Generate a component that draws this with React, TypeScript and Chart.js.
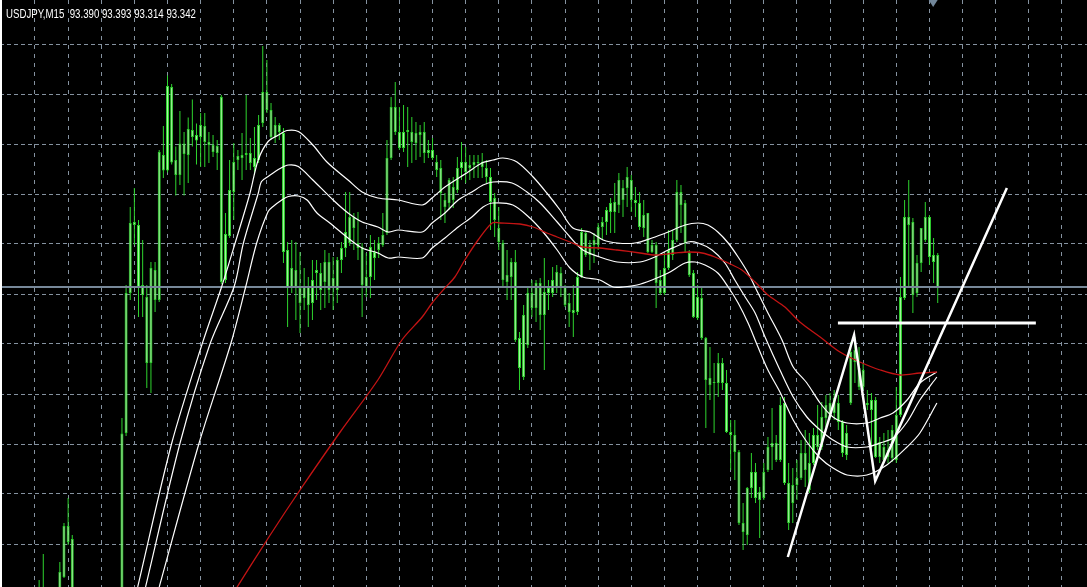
import { useEffect, useRef } from "react";
import { Chart, registerables } from "chart.js";

Chart.register(...registerables);

// ---- chart meta ----
const TITLE_TEXT = "USDJPY,M15  93.390 93.393 93.314 93.342";
const X_MIN = -8.45; // bar index at left edge
const X_MAX = 254.05; // bar index at right edge
const Y_MIN = 92.714;
const Y_MAX = 93.888;
const GRID_BARS = 8;
const GRID_PRICE = 0.1;
const BID_PRICE = 93.314;
const SHIFT_MARKER_BAR = 216.9;

// ---- candles (bar index starts at FIRST_BAR; null = entirely below the visible window) ----
const FIRST_BAR = 1;
const N = null;
const opens = [
  92.688, 92.678, N, N, N,
  92.688, 92.734, 92.836, 92.810,
  N, N, N, N, N, N, N, N, N, N, N,
  92.688, 93.022, 93.302, 93.444, 93.438, 93.318, 93.294, 93.162, 93.348, 93.288,
  93.578, 93.547, 93.714, 93.568, 93.538, 93.601, 93.578, 93.628, 93.618, 93.614,
  93.636, 93.604, 93.598, 93.582, 93.694, 93.328, 93.416, 93.504, 93.568, 93.578,
  93.578, 93.582, 93.554, 93.568, 93.642, 93.704, 93.668, 93.614, 93.638, 93.622,
  93.388, 93.314, 93.348, 93.312, 93.292, 93.314, 93.282, 93.342, 93.342, 93.324,
  93.364, 93.314, 93.308, 93.368, 93.392, 93.402, 93.454, 93.402, 93.394, 93.314,
  93.334, 93.384, 93.388, 93.398, 93.422, 93.572, 93.674, 93.624, 93.592, 93.624,
  93.624, 93.602, 93.624, 93.624, 93.582, 93.588, 93.564, 93.552, 93.488, 93.482,
  93.514, 93.508, 93.552, 93.564, 93.552, 93.558, 93.564, 93.564, 93.552, 93.534,
  93.492, 93.432, 93.402, 93.324, 93.334, 93.364, 93.212, 93.134, 93.198, 93.302,
  93.272, 93.322, 93.258, 93.302, 93.302, 93.314, 93.342, 93.314, 93.282, 93.262,
  93.264, 93.334, 93.422, 93.378, 93.398, 93.398, 93.434, 93.444, 93.464, 93.484,
  93.478, 93.512, 93.512, 93.528, 93.488, 93.482, 93.432, 93.462, 93.384, 93.398,
  93.328, 93.302, 93.352, 93.378, 93.408, 93.504, 93.482, 93.382, 93.342, 93.252,
  93.292, 93.212, 93.132, 93.122, 93.122, 93.162, 93.122, 93.024, 93.018, 92.984,
  92.842, 92.818, 92.912, 92.944, 92.888, 92.892, 92.948, 92.994, 93.002, 92.968,
  93.082, 92.922, 92.882, 92.918, 92.932, 92.982, 92.962, 92.962, 93.018, 92.994,
  93.052, 93.082, 93.062, 93.082, 93.044, 92.978, 93.082, 93.188, 93.152, 93.114,
  93.082, 93.088, 93.088, 92.974, 92.994, 92.974, 92.972, 92.968, 93.058, 93.292,
  93.454, 93.444, 93.302, 93.362, 93.408, 93.454, 93.378, 93.378,
];
const highs = [
  92.728, 92.780, N, N, N,
  92.764, 92.842, 92.892, 92.818,
  N, N, N, N, N, N, N, N, N, N, N,
  93.052, 93.318, 93.474, 93.512, 93.448, 93.408, 93.318, 93.364, 93.364, 93.588,
  93.636, 93.737, 93.720, 93.595, 93.666, 93.624, 93.653, 93.689, 93.641, 93.662,
  93.662, 93.624, 93.618, 93.608, 93.698, 93.462, 93.568, 93.602, 93.588, 93.622,
  93.698, 93.612, 93.634, 93.658, 93.796, 93.768, 93.682, 93.654, 93.642, 93.632,
  93.404, 93.408, 93.404, 93.384, 93.352, 93.334, 93.368, 93.368, 93.362, 93.388,
  93.382, 93.374, 93.374, 93.404, 93.504, 93.504, 93.462, 93.464, 93.402, 93.382,
  93.418, 93.408, 93.414, 93.462, 93.608, 93.694, 93.724, 93.674, 93.678, 93.674,
  93.654, 93.644, 93.638, 93.644, 93.608, 93.612, 93.578, 93.568, 93.502, 93.532,
  93.534, 93.574, 93.604, 93.594, 93.578, 93.578, 93.578, 93.582, 93.568, 93.552,
  93.502, 93.474, 93.408, 93.388, 93.372, 93.388, 93.224, 93.278, 93.314, 93.328,
  93.328, 93.332, 93.372, 93.328, 93.354, 93.358, 93.354, 93.318, 93.302, 93.318,
  93.344, 93.432, 93.424, 93.408, 93.422, 93.442, 93.454, 93.474, 93.492, 93.522,
  93.542, 93.528, 93.554, 93.538, 93.514, 93.504, 93.488, 93.462, 93.408, 93.404,
  93.348, 93.382, 93.428, 93.428, 93.528, 93.518, 93.488, 93.388, 93.348, 93.318,
  93.314, 93.214, 93.194, 93.162, 93.182, 93.172, 93.148, 93.048, 93.048, 92.988,
  92.882, 92.914, 92.982, 92.962, 92.914, 92.962, 93.014, 93.072, 93.018, 93.094,
  93.094, 92.962, 92.952, 92.968, 93.008, 93.028, 93.022, 93.032, 93.078, 93.084,
  93.098, 93.102, 93.108, 93.098, 93.048, 93.038, 93.204, 93.214, 93.194, 93.162,
  93.108, 93.102, 93.094, 93.014, 93.022, 93.028, 93.038, 93.114, 93.334, 93.488,
  93.528, 93.452, 93.378, 93.432, 93.484, 93.458, 93.412, 93.382,
];
const lows = [
  92.648, 92.648, N, N, N,
  92.668, 92.732, 92.798, 92.668,
  N, N, N, N, N, N, N, N, N, N, N,
  92.678, 93.016, 93.288, 93.398, 93.254, 93.254, 93.112, 93.102, 93.264, 93.284,
  93.532, 93.543, 93.559, 93.497, 93.518, 93.497, 93.522, 93.595, 93.559, 93.554,
  93.554, 93.562, 93.574, 93.548, 93.320, 93.322, 93.412, 93.448, 93.548, 93.528,
  93.548, 93.548, 93.538, 93.562, 93.634, 93.662, 93.608, 93.602, 93.608, 93.362,
  93.234, 93.302, 93.248, 93.222, 93.268, 93.234, 93.248, 93.288, 93.268, 93.272,
  93.282, 93.268, 93.282, 93.342, 93.374, 93.396, 93.388, 93.368, 93.254, 93.294,
  93.292, 93.328, 93.372, 93.394, 93.418, 93.568, 93.618, 93.588, 93.584, 93.554,
  93.562, 93.568, 93.574, 93.562, 93.572, 93.568, 93.534, 93.448, 93.442, 93.468,
  93.472, 93.502, 93.528, 93.522, 93.528, 93.532, 93.532, 93.532, 93.522, 93.428,
  93.414, 93.388, 93.314, 93.288, 93.288, 93.204, 93.108, 93.128, 93.192, 93.254,
  93.244, 93.228, 93.148, 93.268, 93.294, 93.302, 93.294, 93.274, 93.234, 93.214,
  93.258, 93.332, 93.374, 93.348, 93.362, 93.388, 93.408, 93.418, 93.422, 93.422,
  93.462, 93.454, 93.474, 93.464, 93.454, 93.428, 93.414, 93.382, 93.382, 93.272,
  93.298, 93.298, 93.348, 93.368, 93.404, 93.422, 93.382, 93.334, 93.252, 93.248,
  93.208, 93.032, 93.088, 93.022, 93.094, 93.108, 93.022, 92.948, 92.928, 92.838,
  92.788, 92.798, 92.892, 92.882, 92.812, 92.888, 92.944, 92.948, 92.964, 92.964,
  92.918, 92.828, 92.842, 92.888, 92.928, 92.914, 92.902, 92.958, 92.988, 92.988,
  93.034, 93.048, 93.048, 93.028, 92.974, 92.968, 93.078, 93.122, 93.108, 93.108,
  93.068, 92.974, 92.972, 92.962, 92.962, 92.962, 92.964, 92.962, 93.054, 93.288,
  93.314, 93.262, 93.294, 93.344, 93.404, 93.358, 93.322, 93.282,
];
const closes = [
  92.678, 92.698, N, N, N,
  92.744, 92.836, 92.804, 92.688,
  N, N, N, N, N, N, N, N, N, N, N,
  93.021, 93.302, 93.442, 93.438, 93.314, 93.298, 93.162, 93.352, 93.288, 93.584,
  93.547, 93.716, 93.563, 93.538, 93.601, 93.580, 93.630, 93.614, 93.607, 93.638,
  93.604, 93.598, 93.584, 93.596, 93.324, 93.420, 93.508, 93.564, 93.576, 93.572,
  93.582, 93.562, 93.572, 93.638, 93.704, 93.668, 93.614, 93.638, 93.624, 93.384,
  93.314, 93.352, 93.314, 93.282, 93.314, 93.278, 93.328, 93.348, 93.308, 93.364,
  93.308, 93.332, 93.368, 93.392, 93.424, 93.454, 93.432, 93.392, 93.318, 93.334,
  93.394, 93.372, 93.402, 93.418, 93.572, 93.674, 93.624, 93.592, 93.624, 93.628,
  93.604, 93.622, 93.618, 93.582, 93.588, 93.572, 93.548, 93.502, 93.474, 93.528,
  93.488, 93.552, 93.564, 93.544, 93.558, 93.564, 93.562, 93.554, 93.534, 93.484,
  93.448, 93.404, 93.328, 93.338, 93.364, 93.208, 93.152, 93.258, 93.302, 93.272,
  93.322, 93.258, 93.304, 93.312, 93.328, 93.344, 93.314, 93.278, 93.264, 93.268,
  93.334, 93.424, 93.378, 93.398, 93.408, 93.434, 93.444, 93.468, 93.482, 93.464,
  93.528, 93.488, 93.534, 93.488, 93.482, 93.434, 93.458, 93.384, 93.398, 93.322,
  93.302, 93.352, 93.388, 93.408, 93.504, 93.478, 93.402, 93.338, 93.254, 93.294,
  93.212, 93.128, 93.118, 93.124, 93.162, 93.122, 93.024, 93.018, 92.984, 92.842,
  92.824, 92.912, 92.944, 92.892, 92.904, 92.944, 92.994, 93.002, 92.968, 93.078,
  92.922, 92.842, 92.918, 92.932, 92.982, 92.948, 92.908, 93.018, 92.994, 93.054,
  93.078, 93.054, 93.092, 93.044, 92.982, 93.022, 93.184, 93.164, 93.114, 93.148,
  93.078, 93.068, 92.974, 93.004, 92.968, 92.988, 93.028, 93.058, 93.294, 93.454,
  93.438, 93.298, 93.362, 93.432, 93.454, 93.374, 93.364, 93.314,
];

// ---- indicator lines: [bar index, price] ----
const maHighLine: [number, number][] = [
  [24.8, 92.714], [33.0, 93.001], [40.4, 93.201], [45.1, 93.315], [48.3, 93.401], [51.9, 93.501],
  [53.9, 93.568], [56.3, 93.605], [58.8, 93.618], [60.8, 93.627], [63.6, 93.625], [67.1, 93.598],
  [70.5, 93.564], [75.6, 93.528], [79.0, 93.504],
  [82.8, 93.492], [87.7, 93.488], [93.5, 93.478], [95.9, 93.492], [99.0, 93.514], [104.6, 93.544],
  [107.9, 93.562], [110.6, 93.568], [113.0, 93.572], [116.4, 93.564], [120.3, 93.534], [123.6, 93.502],
  [126.8, 93.468], [129.9, 93.432], [134.0, 93.424], [137.2, 93.408], [140.6, 93.402], [144.9, 93.402],
  [149.0, 93.412], [152.9, 93.424], [157.0, 93.438], [160.1, 93.442], [162.5, 93.438], [164.9, 93.424],
  [167.4, 93.402], [169.8, 93.374], [172.2, 93.342], [174.6, 93.302], [177.0, 93.262], [180.4, 93.208],
  [183.1, 93.154], [186.4, 93.122], [189.6, 93.082], [192.7, 93.054], [196.1, 93.042], [200.9, 93.042],
  [204.1, 93.052], [207.2, 93.062], [210.6, 93.088], [213.7, 93.122], [217.8, 93.144],
];
const maCloseLine: [number, number][] = [
  [26.7, 92.714], [35.0, 93.001], [42.3, 93.201], [48.1, 93.315], [50.3, 93.401], [53.9, 93.501],
  [54.7, 93.525], [56.3, 93.535], [59.2, 93.551], [61.2, 93.558], [63.6, 93.555], [67.1, 93.528],
  [72.0, 93.488], [75.6, 93.462], [79.0, 93.444],
  [82.8, 93.434], [85.3, 93.424], [87.7, 93.428], [93.5, 93.424], [95.9, 93.442], [99.0, 93.462],
  [102.2, 93.488], [105.5, 93.504], [108.2, 93.518], [110.6, 93.524], [115.2, 93.522], [118.8, 93.504],
  [122.0, 93.482], [126.1, 93.444], [129.2, 93.414], [132.3, 93.388], [136.4, 93.374], [140.6, 93.364],
  [146.1, 93.364], [149.7, 93.374], [152.9, 93.388], [157.7, 93.404], [160.1, 93.402], [163.5, 93.388],
  [166.6, 93.362], [169.0, 93.328], [171.5, 93.294], [173.9, 93.262], [176.3, 93.214], [179.9, 93.148],
  [183.1, 93.094], [186.4, 93.054], [189.6, 93.028], [192.7, 93.008], [196.1, 92.994], [200.9, 92.994],
  [204.1, 93.002], [207.2, 93.012], [210.6, 93.044], [213.7, 93.088], [217.8, 93.134],
];
const maLowLine: [number, number][] = [
  [30.0, 92.714], [39.6, 93.001], [47.3, 93.201], [50.9, 93.315], [53.5, 93.401], [56.3, 93.465],
  [57.5, 93.475], [59.6, 93.488], [61.2, 93.495], [63.6, 93.496], [65.7, 93.488], [68.1, 93.462],
  [71.2, 93.442], [75.6, 93.412],
  [79.0, 93.392], [82.8, 93.382], [85.3, 93.372], [87.7, 93.374], [93.5, 93.372], [95.9, 93.392],
  [99.0, 93.412], [102.2, 93.434], [105.5, 93.454], [108.2, 93.474], [110.6, 93.482], [115.4, 93.478],
  [119.5, 93.452], [122.7, 93.424], [126.1, 93.388], [129.2, 93.352], [132.3, 93.334], [136.4, 93.328],
  [139.6, 93.314], [142.0, 93.314], [145.4, 93.318], [149.0, 93.328], [152.9, 93.342], [157.0, 93.362],
  [159.4, 93.364], [161.8, 93.358], [164.9, 93.342], [167.4, 93.314], [169.8, 93.282], [172.2, 93.242],
  [174.6, 93.194], [177.0, 93.148], [179.9, 93.104], [183.1, 93.048], [186.4, 93.004], [189.6, 92.972],
  [192.7, 92.952], [196.1, 92.938], [200.9, 92.938], [205.7, 92.958], [210.6, 92.994], [213.7, 93.022],
  [217.8, 93.082],
];
const maSlowLine: [number, number][] = [
  [47.6, 92.698], [56.8, 92.818], [64.0, 92.908], [73.7, 93.024], [82.8, 93.128], [88.6, 93.208],
  [93.5, 93.254], [95.9, 93.282], [99.0, 93.312], [101.4, 93.334], [103.8, 93.368], [107.0, 93.408],
  [110.4, 93.442], [112.3, 93.442], [117.1, 93.440], [120.3, 93.434], [123.6, 93.422], [126.1, 93.414],
  [129.2, 93.404], [132.3, 93.394], [136.4, 93.392], [140.6, 93.388], [146.1, 93.382], [149.7, 93.378],
  [154.6, 93.382], [157.7, 93.384], [161.1, 93.382], [164.2, 93.374], [167.4, 93.362], [170.7, 93.348],
  [173.9, 93.324], [177.0, 93.298], [181.1, 93.274], [184.7, 93.244], [189.6, 93.214], [194.4, 93.184],
  [199.2, 93.164], [204.1, 93.148], [208.9, 93.138], [213.7, 93.142], [217.8, 93.144],
];

// ---- hand-drawn objects ----
const zigzagLine: [number, number][] = [
  [181.8, 92.774], [197.8, 93.218], [202.9, 92.926], [234.7, 93.512],
];
const levelLine: [number, number][] = [
  [193.9, 93.242], [241.7, 93.242],
];

const toXY = (pts: [number, number][]) => pts.map(([x, y]) => ({ x, y }));

export default function App() {
  const ref = useRef<HTMLCanvasElement | null>(null);

  useEffect(() => {
    document.body.style.margin = "0";
    document.body.style.background = "#000";
    if (!ref.current) return;

    const wicks: any[] = [];
    const bodies: any[] = [];
    opens.forEach((o, k) => {
      const h = highs[k];
      const l = lows[k];
      const c = closes[k];
      if (o == null || h == null || l == null || c == null) return;
      const x = FIRST_BAR + k;
      wicks.push({ x, y: [l, h] });
      bodies.push({ x, y: [o, c] });
    });

    const chrome = {
      id: "mtChrome",
      beforeDraw(chart: any) {
        const { ctx } = chart;
        ctx.save();
        ctx.fillStyle = "#000";
        ctx.fillRect(0, 0, chart.width, chart.height);
        ctx.restore();
      },
      afterDraw(chart: any) {
        const { ctx, scales } = chart;
        ctx.save();
        ctx.fillStyle = "#ffffff";
        ctx.fillRect(0, 0, 2, chart.height);
        const mx = scales.x.getPixelForValue(SHIFT_MARKER_BAR);
        ctx.fillStyle = "#72879a";
        ctx.beginPath();
        ctx.moveTo(mx - 4.5, 0);
        ctx.lineTo(mx + 4.5, 0);
        ctx.lineTo(mx, 7);
        ctx.closePath();
        ctx.fill();
        ctx.restore();
      },
    };

    const lineDs = (label: string, pts: [number, number][], color: string, width: number, tension: number) => ({
      type: "line" as const,
      label,
      data: toXY(pts),
      borderColor: color,
      backgroundColor: color,
      borderWidth: width,
      pointRadius: 0,
      tension,
      fill: false,
    });

    const chart = new Chart(ref.current, {
      type: "bar",
      data: {
        datasets: [
          lineDs("Zigzag", zigzagLine, "#ffffff", 2.5, 0) as any,
          lineDs("Level", levelLine, "#ffffff", 3, 0) as any,
          lineDs("MA slow", maSlowLine, "#c41414", 1.3, 0.3) as any,
          lineDs("MA high", maHighLine, "#ffffff", 1.2, 0.3) as any,
          lineDs("MA close", maCloseLine, "#ffffff", 1.2, 0.3) as any,
          lineDs("MA low", maLowLine, "#ffffff", 1.2, 0.3) as any,
          lineDs("Bid", [[X_MIN, BID_PRICE], [X_MAX, BID_PRICE]], "#778899", 2, 0) as any,
          {
            label: "Bodies",
            data: bodies,
            backgroundColor: "#a8f7a2",
            borderColor: "#2ed42e",
            borderWidth: 1,
            borderSkipped: false,
            barThickness: 3,
            minBarLength: 1,
            grouped: false,
            inflateAmount: 0,
          } as any,
          {
            label: "Wicks",
            data: wicks,
            backgroundColor: "#2ed42e",
            borderWidth: 0,
            barThickness: 1,
            grouped: false,
            inflateAmount: 0,
          } as any,
        ],
      },
      options: {
        responsive: false,
        maintainAspectRatio: false,
        animation: false,
        devicePixelRatio: 1,
        events: [],
        layout: { padding: 0, autoPadding: false },
        plugins: {
          legend: { display: false },
          tooltip: { enabled: false },
          title: { display: false },
        },
        scales: {
          x: {
            type: "linear",
            min: X_MIN,
            max: X_MAX,
            offset: false,
            ticks: { display: false, stepSize: GRID_BARS, includeBounds: false },
            grid: { color: "#8592a0", lineWidth: 1, drawTicks: false, offset: false },
            border: { display: false, dash: [4, 5] },
          },
          y: {
            type: "linear",
            min: Y_MIN,
            max: Y_MAX,
            beginAtZero: false,
            ticks: { display: false, stepSize: GRID_PRICE, includeBounds: false },
            grid: { color: "#8592a0", lineWidth: 1, drawTicks: false },
            border: { display: false, dash: [4, 3] },
          },
        },
      } as any,
      plugins: [chrome],
    });

    return () => chart.destroy();
  }, []);

  return (
    <div
      style={{
        position: "fixed",
        left: 0,
        top: 0,
        width: 1087,
        height: 587,
        background: "#000",
        overflow: "hidden",
      }}
    >
      <canvas ref={ref} width={1087} height={587} style={{ display: "block", width: 1087, height: 587 }} />
      <div
        style={{
          position: "absolute",
          left: 6,
          top: 8,
          color: "#ffffff",
          fontFamily: "'Liberation Sans', Arial, sans-serif",
          fontSize: 12,
          lineHeight: "12px",
          whiteSpace: "pre",
          transform: "scaleX(0.805)",
          transformOrigin: "0 0",
        }}
      >
        {TITLE_TEXT}
      </div>
    </div>
  );
}
